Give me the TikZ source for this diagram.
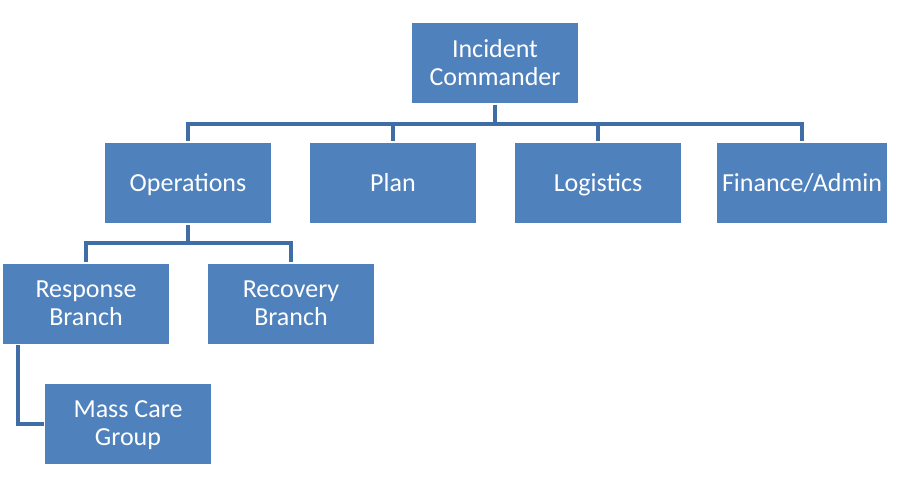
\documentclass[tikz,border=0pt]{standalone}
\usepackage{fontspec}
\setmainfont{Carlito}
\definecolor{boxblue}{HTML}{4F81BD}
\definecolor{linkblue}{HTML}{3F6DA6}
\begin{document}
\begin{tikzpicture}[
    role/.style={rectangle, draw=white, line width=1pt, fill=boxblue, text=white,
        minimum width=3.34cm, minimum height=1.64cm, align=center, text depth=0.1em,
        font=\fontsize{14.8}{16}\selectfont},
    link/.style={draw=linkblue, line width=1.8pt},
]
\useasboundingbox (0,0) rectangle (18,-10);
\node[role] (ic) at (9.9,-1.26) {Incident\\Commander};
\node[role] (ops) at (3.76,-3.66) {Operations};
\node[role] (plan) at (7.86,-3.66) {Plan};
\node[role] (log) at (11.96,-3.66) {Logistics};
\node[role] (fin) at (16.04,-3.66) {Finance/Admin};
\node[role] (resp) at (1.72,-6.08) {Response\\Branch};
\node[role] (rec) at (5.82,-6.08) {Recovery\\Branch};
\node[role] (mass) at (2.56,-8.48) {Mass Care\\Group};
\coordinate (bus) at (0,-2.48);
\coordinate (opsbus) at (0,-4.86);
\coordinate (tap) at (0.36,-6.9);
% top level
\draw[link] (ic.south) |- (ops.north |- bus) -- (ops.north);
\draw[link] (ic.south) |- (plan.north |- bus) -- (plan.north);
\draw[link] (ic.south) |- (log.north |- bus) -- (log.north);
\draw[link] (ic.south) |- (fin.north |- bus) -- (fin.north);
% operations
\draw[link] (ops.south) |- (resp.north |- opsbus) -- (resp.north);
\draw[link] (ops.south) |- (rec.north |- opsbus) -- (rec.north);
\draw[link] (tap) |- (mass.west);
\end{tikzpicture}
\end{document}
